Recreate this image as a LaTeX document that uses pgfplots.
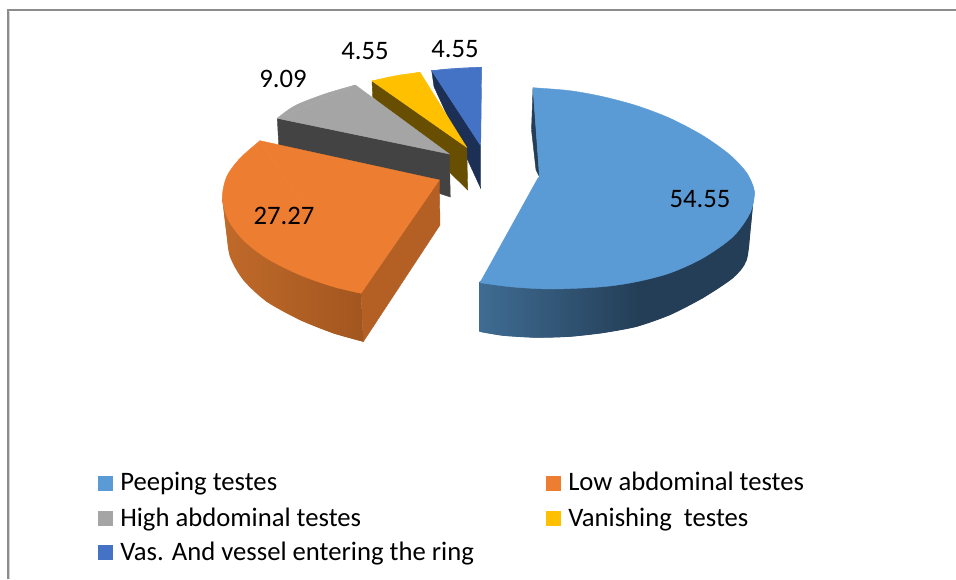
\documentclass[border=0pt]{standalone}
\usepackage{fontspec}
\setmainfont{Carlito}
\usepackage{pgfplots}
\pgfplotsset{compat=1.18}
\definecolor{sliceBlue}{HTML}{5B9BD5}
\definecolor{sliceBlueDark}{HTML}{243E57}
\definecolor{sliceBlueMid}{HTML}{3F6C93}
\definecolor{sliceOrange}{HTML}{ED7D31}
\definecolor{orangeSide}{HTML}{B46025}
\definecolor{orangeL}{HTML}{C06A2A}
\definecolor{orangeR}{HTML}{A2561F}
\definecolor{sliceGray}{HTML}{A5A5A5}
\definecolor{grayDark}{HTML}{434343}
\definecolor{sliceYellow}{HTML}{FFC000}
\definecolor{yellowDark}{HTML}{674E00}
\definecolor{sliceNavy}{HTML}{4472C4}
\definecolor{navyDark}{HTML}{1C3056}
\definecolor{frameGray}{HTML}{8C8C8C}
\definecolor{frameLight}{HTML}{D4D4D4}
\pgfdeclarehorizontalshading{blueside}{100bp}{color(0bp)=(sliceBlueMid); color(25bp)=(sliceBlueMid); color(54bp)=(sliceBlueDark); color(100bp)=(sliceBlueDark)}
\newcommand{\lab}{\fontsize{20}{24}\selectfont}
\tikzset{lbl/.style={font=\lab, text=black, inner sep=0pt}}
\begin{document}
\begin{tikzpicture}
\begin{axis}[
    scale only axis, width=717pt, height=434.25pt,
    xmin=0, xmax=956, ymin=0, ymax=579, y dir=reverse,
    hide axis, clip=true,
    every axis plot/.append style={line width=0.3pt},
]
% page background, keeps the full extent
\addplot[fill=white, draw=none] coordinates {(0,0) (956,0) (956,579) (0,579)} -- cycle;
% frame
\addplot[frameLight, line width=0.75pt] coordinates {(9.5,12) (9.5,579)};
\addplot[frameGray, line width=1.5pt] coordinates {(7.5,579) (7.5,10) (956,10)};

% vas and vessel
\addplot[fill=navyDark, draw=navyDark] coordinates {(431.7,70.7) (434,86.7) (480.7,188.3) (480.7,145.7)} -- cycle;
\addplot[fill=sliceNavy, draw=sliceNavy, smooth] coordinates {(431.7,70.7) (444,69.3) (456.7,68.3) (469,67.7) (481.7,67.3)};
\addplot[fill=sliceNavy, draw=sliceNavy] coordinates {(431.7,70.7) (481.7,67.3) (480.7,145.7)} -- cycle;

% vanishing
\addplot[fill=yellowDark, draw=yellowDark] coordinates {(372,81) (372.7,96.7) (467.7,190) (466.7,147.3)} -- cycle;
\addplot[fill=sliceYellow, draw=sliceYellow, smooth] coordinates {(372,81) (386,77.7) (400,75) (420,72.3)};
\addplot[fill=sliceYellow, draw=sliceYellow] coordinates {(372,81) (420,72.3) (466.7,147.3)} -- cycle;

% high abdominal
\addplot[fill=grayDark, draw=grayDark] coordinates {(277.3,118.3) (449.3,154) (450.3,197) (438,193) (279,150)} -- cycle;
\addplot[fill=sliceGray, draw=sliceGray, smooth] coordinates {(277.3,118.3) (288,110) (300,103.3) (326.7,93.3) (355.3,85)};
\addplot[fill=sliceGray, draw=sliceGray] coordinates {(277.3,118.3) (355.3,85) (449.3,154)} -- cycle;

% low abdominal
\addplot[fill=orangeSide, draw=orangeSide] coordinates {(439.3,180) (440,225) (363.3,341.7) (361,293.3)} -- cycle;
\addplot[left color=orangeL, right color=orangeR, draw=none, smooth] coordinates {(222.3,198.3) (226,230) (230,256.7) (243.3,280) (266.7,301.7) (300,320) (333.3,333.3) (363.3,341.7)};
\addplot[left color=orangeL, right color=orangeR, draw=none] coordinates {(222.3,198.3) (226,230) (230,256.7) (243.3,280) (266.7,301.7) (300,320) (333.3,333.3) (363.3,341.7) (361,293.3) (300,200)} -- cycle;
\addplot[fill=sliceOrange, draw=sliceOrange, smooth] coordinates {(260,140.7) (240,158.3) (226.7,176.7) (222.3,198.3) (228.3,220) (243.3,240) (266.7,258.3) (300,275) (333.3,286.7) (361,293.3)};
\addplot[fill=sliceOrange, draw=sliceOrange] coordinates {(260,140.7) (361,293.3) (439.3,180)} -- cycle;

% peeping
\addplot[fill=sliceBlueDark, draw=sliceBlueDark] coordinates {(533,88) (531.5,130) (536,170) (539.5,177)} -- cycle;
\addplot[shading=blueside, draw=none, smooth] coordinates {(479.3,331.7) (503,335.7) (536.7,337.7) (570,336.7) (603,333) (636.7,326.7) (670,315) (703,298) (733,278) (746.7,260) (751,225) (753.5,198)};
\addplot[shading=blueside, draw=none] coordinates {(479.3,282) (479.3,331.7) (503,335.7) (536.7,337.7) (570,336.7) (603,333) (636.7,326.7) (670,315) (703,298) (733,278) (746.7,260) (751,225) (753.5,198) (600,180)} -- cycle;
\addplot[fill=sliceBlue, draw=sliceBlue, smooth] coordinates {(533,87.7) (570,90.7) (603,96.7) (636.7,105.7) (670,118.3) (703,135.7) (730,155) (746.7,173) (754.3,191.7) (750,213)};
\addplot[fill=sliceBlue, draw=sliceBlue, smooth] coordinates {(746.7,173) (754.3,191.7) (750,213) (733,236.7) (703,258) (670,273) (636.7,281.7) (603,286.7) (553,289) (513,287) (480,282.7)};
\addplot[fill=sliceBlue, draw=sliceBlue] coordinates {(539.5,177) (533,87.7) (746.7,173) (750,213) (480,282.7) (538,178)} -- cycle;

% data labels
\node[lbl] at (axis cs:700,199) {54.55};
\node[lbl] at (axis cs:284,216) {27.27};
\node[lbl] at (axis cs:283,79) {9.09};
\node[lbl] at (axis cs:365,51) {4.55};
\node[lbl] at (axis cs:455,49) {4.55};

% legend
\addplot[fill=sliceBlue, draw=none] coordinates {(98,476) (113,476) (113,491) (98,491)} -- cycle;
\addplot[fill=sliceGray, draw=none] coordinates {(98,511) (113,511) (113,526) (98,526)} -- cycle;
\addplot[fill=sliceNavy, draw=none] coordinates {(98,545) (113,545) (113,560) (98,560)} -- cycle;
\addplot[fill=sliceOrange, draw=none] coordinates {(546,476) (561,476) (561,491) (546,491)} -- cycle;
\addplot[fill=sliceYellow, draw=none] coordinates {(546,511) (561,511) (561,526) (546,526)} -- cycle;
\node[lbl, anchor=base west] at (axis cs:120,490.7) {Peeping testes};
\node[lbl, anchor=base west] at (axis cs:120,526) {High abdominal testes};
\node[lbl, anchor=base west] at (axis cs:120,560.7) {Vas. And vessel entering the ring};
\node[lbl, anchor=base west] at (axis cs:568,490.7) {Low abdominal testes};
\node[lbl, anchor=base west] at (axis cs:568,526) {Vanishing\ \ testes};
\end{axis}
\end{tikzpicture}
\end{document}
